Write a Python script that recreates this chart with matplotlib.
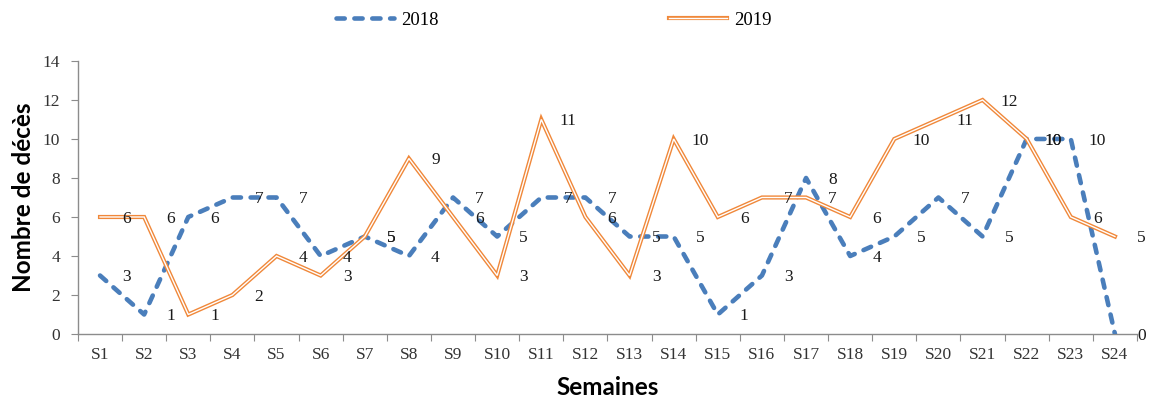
#!/usr/bin/env python3
"""Weekly death counts, 2018 vs 2019 (weeks S1-S24)."""
import matplotlib

matplotlib.use("Agg")
import matplotlib.pyplot as plt
from matplotlib.lines import Line2D

WEEKS = [f"S{i}" for i in range(1, 25)]
DEATHS_2018 = [3, 1, 6, 7, 7, 4, 5, 4, 7, 5, 7, 7, 5, 5, 1, 3, 8, 4, 5, 7, 5, 10, 10, 0]
DEATHS_2019 = [6, 6, 1, 2, 4, 3, 5, 9, 6, 3, 11, 6, 3, 10, 6, 7, 7, 6, 10, 11, 12, 10, 6, 5]

BLUE = "#4A7EBB"
ORANGE = "#F0883A"
AXIS_GREY = "#8C8C8C"
SERIF = "Liberation Serif"

fig = plt.figure(figsize=(11.5, 4.01), dpi=100)
ax = fig.add_axes([0.0678, 0.167, 0.9209, 0.681])

x = list(range(len(WEEKS)))

blue_line, = ax.plot(x, DEATHS_2018, color=BLUE, lw=3.3, dash_capstyle="round",
                     solid_joinstyle="round", zorder=3)
blue_line.set_dashes((1.8, 2.1))

ax.plot(x, DEATHS_2019, color=ORANGE, lw=3.0, solid_joinstyle="miter", zorder=4)
ax.plot(x, DEATHS_2019, color="white", lw=1.0, solid_joinstyle="miter", zorder=5)

# data labels sit to the right of each point, Excel style
for series in (DEATHS_2018, DEATHS_2019):
    for xi, v in zip(x, series):
        ax.text(xi + 0.6, v - 0.08, f"{v}", ha="center", va="center", fontsize=12.5,
                family=SERIF, color="#1a1a1a", clip_on=False, zorder=6)

ax.set_xlim(-0.5, len(WEEKS) - 0.5)
ax.set_ylim(0, 14)
ax.set_yticks(range(0, 15, 2))
ax.set_yticklabels([str(v) for v in range(0, 15, 2)], family=SERIF, fontsize=12.5, color="#333333")

ax.set_xticks([i - 0.5 for i in range(len(WEEKS) + 1)])
ax.set_xticklabels([])
ax.set_xticks(x, minor=True)
ax.set_xticklabels(WEEKS, minor=True, family=SERIF, fontsize=12.5, color="#333333")
ax.tick_params(axis="x", which="major", direction="out", length=5, color=AXIS_GREY)
ax.tick_params(axis="x", which="minor", length=0, pad=9)
ax.tick_params(axis="y", direction="out", length=5, color=AXIS_GREY, pad=8)

for side in ("top", "right"):
    ax.spines[side].set_visible(False)
for side in ("left", "bottom"):
    ax.spines[side].set_color(AXIS_GREY)
    ax.spines[side].set_linewidth(1.0)

ax.set_xlabel("Semaines", family="Lato", fontweight="bold", fontsize=17.5, labelpad=10)
ax.set_ylabel("Nombre de décès", family="Lato", fontweight="bold", fontsize=17.5, labelpad=5)

h2018 = Line2D([], [], color=BLUE, lw=3.3, dash_capstyle="round")
h2018.set_dashes((1.8, 2.1))
h2019 = (Line2D([], [], color=ORANGE, lw=3.0), Line2D([], [], color="white", lw=1.0))
fig.legend([h2018, h2019], ["2018", "2019"], loc="center", bbox_to_anchor=(0.4816, 0.95),
           ncol=2, frameon=False, handlelength=3.1, handletextpad=0.35, columnspacing=12.3,
           prop={"family": SERIF, "size": 13.5})

fig.savefig("out.png", dpi=100)
